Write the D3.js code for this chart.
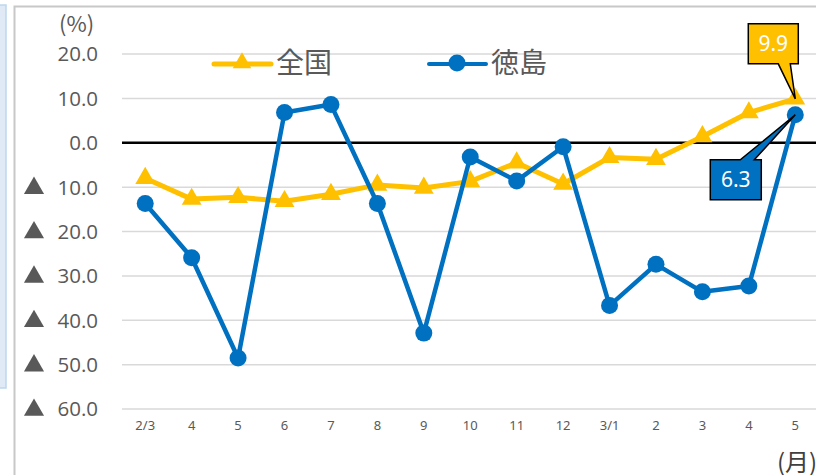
<!DOCTYPE html>
<html><head><meta charset="utf-8">
<script src="https://cdn.jsdelivr.net/npm/d3@7"></script>
<style>
html,body{margin:0;padding:0;background:#fff;overflow:hidden}
svg{display:block}
text{font-family:"Noto Sans","Noto Sans CJK JP",sans-serif}
</style></head>
<body>
<svg id="c" width="816" height="475"></svg>
<script>
const categories = ["2/3","4","5","6","7","8","9","10","11","12","3/1","2","3","4","5"];
const zenkoku = [-8.0,-12.7,-12.3,-13.2,-11.6,-9.5,-10.2,-8.7,-4.5,-9.3,-3.3,-3.7,1.4,6.8,9.9];
const tokushima = [-13.7,-25.9,-48.5,6.8,8.6,-13.7,-42.9,-3.2,-8.6,-0.9,-36.7,-27.4,-33.6,-32.3,6.3];
const yTicks = [20,10,0,-10,-20,-30,-40,-50,-60];
const seriesNames = ["全国","徳島"];

const svg = d3.select("#c");
const grey = "#595959";
const cYellow = "#FFC000", cBlue = "#0070C0";

// outer decorations
svg.append("rect").attr("x",-2).attr("y",5).attr("width",8).attr("height",383)
  .attr("fill","#dfeaf6").attr("stroke","#bdd7ee").attr("stroke-width",1.5);
svg.append("rect").attr("x",14.5).attr("y",6.5).attr("width",820).attr("height",480)
  .attr("fill","#fff").attr("stroke","#c8c8c8").attr("stroke-width",2);

const x = d3.scaleBand().domain(d3.range(categories.length)).range([122,818.5]).padding(0);
const cx = i => x(i) + x.bandwidth()/2;
const y = d3.scaleLinear().domain([-60,20]).range([409,54]);

// gridlines
svg.append("g").selectAll("line").data(yTicks.filter(d=>d!==0)).join("line")
  .attr("x1",122).attr("x2",816).attr("y1",d=>y(d)).attr("y2",d=>y(d))
  .attr("stroke","#d9d9d9").attr("stroke-width",1.5);

// y axis labels
const yl = svg.append("g");
yTicks.forEach(d=>{
  yl.append("text").attr("x",98).attr("y",y(d)).attr("dy","0.36em")
    .attr("text-anchor","end").attr("fill",grey).attr("font-size",20.5)
    .style("font-family","'Open Sans'")
    .text(Math.abs(d).toFixed(1));
  if (d<0) {
    yl.append("path").attr("d",d3.symbol(d3.symbolTriangle,175)())
      .attr("transform",`translate(34,${y(d)+1})`).attr("fill",grey);
  }
});
svg.append("text").attr("x",59).attr("y",32).attr("fill",grey).attr("font-size",22)
  .style("font-family","'Noto Sans CJK JP'").text("(%)");

// x axis labels
const xAxis = d3.axisBottom(x).tickSize(0).tickFormat(i=>categories[i]);
const gx = svg.append("g").attr("transform","translate(0,418)").call(xAxis);
gx.select(".domain").remove();
gx.selectAll("text").attr("font-size",13).attr("fill",grey).attr("dy","0.71em")
  .style("font-family","'Noto Sans'");
svg.append("text").attr("x",777).attr("y",471).attr("fill","#404040").attr("font-size",24)
  .style("font-family","'Noto Sans CJK JP'").text("(月)");

// zero line
svg.append("line").attr("x1",122).attr("x2",816).attr("y1",y(0)).attr("y2",y(0))
  .attr("stroke","#000").attr("stroke-width",2.5);

const line = d3.line().x((d,i)=>cx(i)).y(d=>y(d));

// 全国
svg.append("path").datum(zenkoku).attr("d",line).attr("fill","none")
  .attr("stroke",cYellow).attr("stroke-width",5).attr("stroke-linejoin","round");
svg.append("g").selectAll("path").data(zenkoku).join("path")
  .attr("d",d3.symbol(d3.symbolTriangle,170)())
  .attr("transform",(d,i)=>`translate(${cx(i)},${y(d)})`).attr("fill",cYellow);

// 徳島
svg.append("path").datum(tokushima).attr("d",line).attr("fill","none")
  .attr("stroke",cBlue).attr("stroke-width",4.5).attr("stroke-linejoin","round");
svg.append("g").selectAll("circle").data(tokushima).join("circle")
  .attr("cx",(d,i)=>cx(i)).attr("cy",d=>y(d)).attr("r",8.5).attr("fill",cBlue);

// legend
const lg = svg.append("g");
lg.append("line").attr("x1",214).attr("x2",271).attr("y1",64).attr("y2",64)
  .attr("stroke",cYellow).attr("stroke-width",5).attr("stroke-linecap","round");
lg.append("path").attr("d",d3.symbol(d3.symbolTriangle,150)())
  .attr("transform","translate(242,63)").attr("fill",cYellow);
lg.append("text").attr("x",276).attr("y",73).attr("font-size",28).attr("fill",grey)
  .style("font-family","'Noto Sans CJK JP'").text(seriesNames[0]);
lg.append("line").attr("x1",429).attr("x2",486).attr("y1",64).attr("y2",64)
  .attr("stroke",cBlue).attr("stroke-width",4).attr("stroke-linecap","round");
lg.append("circle").attr("cx",457).attr("cy",63).attr("r",8.5).attr("fill",cBlue);
lg.append("text").attr("x",491).attr("y",73).attr("font-size",28).attr("fill",grey)
  .style("font-family","'Noto Sans CJK JP'").text(seriesNames[1]);

// callouts
const last = categories.length-1;
const px = cx(last);
const pyZ = y(zenkoku[last]), pyT = y(tokushima[last]);
// 9.9 callout (above-left)
{
  const bx = px-47, by = pyZ-75, w = 50, h = 40;
  svg.append("path").attr("d",
    `M${bx},${by} H${bx+w} V${by+h} H${bx+42} L${px},${pyZ} L${bx+30},${by+h} H${bx} Z`)
    .attr("fill",cYellow).attr("stroke","#000").attr("stroke-width",1.5).attr("stroke-linejoin","miter");
  svg.append("text").attr("x",bx+w/2).attr("y",by+h/2).attr("dy","0.36em")
    .attr("text-anchor","middle").attr("fill","#fff").attr("font-size",21)
    .text(zenkoku[last].toFixed(1));
}
// 6.3 callout (below-left)
{
  const bx = px-85, by = pyT+45, w = 51, h = 40;
  svg.append("path").attr("d",
    `M${bx},${by} H${bx+30} L${px},${pyT} L${bx+44},${by} H${bx+w} V${by+h} H${bx} Z`)
    .attr("fill",cBlue).attr("stroke","#000").attr("stroke-width",1.5);
  svg.append("text").attr("x",bx+w/2).attr("y",by+h/2).attr("dy","0.36em")
    .attr("text-anchor","middle").attr("fill","#fff").attr("font-size",21)
    .text(tokushima[last].toFixed(1));
}
</script>
</body></html>
